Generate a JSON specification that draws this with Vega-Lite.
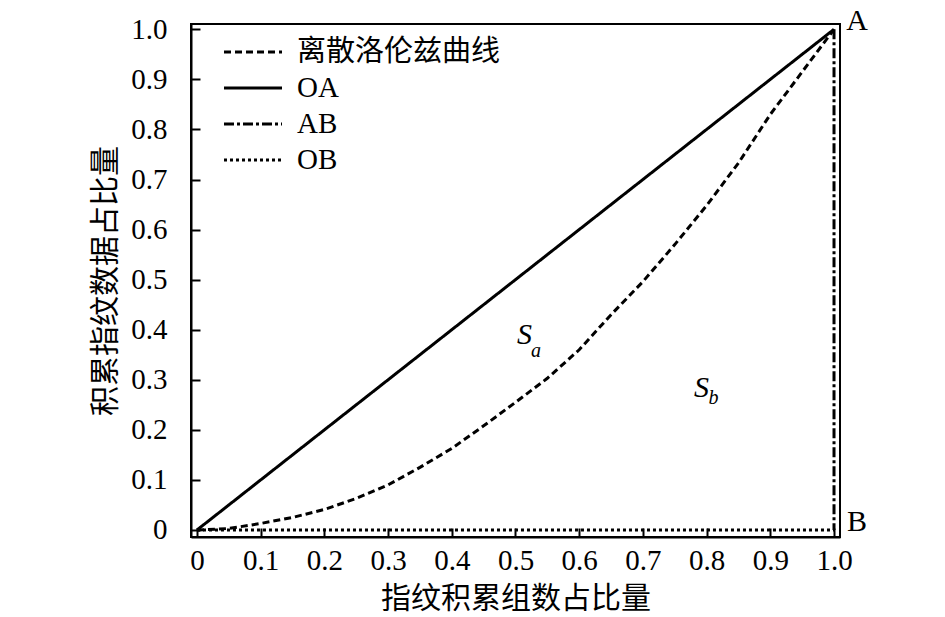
{
  "$schema": "https://vega.github.io/schema/vega-lite/v6.json",
  "width": 649,
  "height": 513,
  "autosize": "none",
  "padding": {"left": 191, "top": 24, "right": 105, "bottom": 80},
  "background": "white",
  "config": {
    "view": {"stroke": "black", "strokeWidth": 2},
    "font": "Liberation Serif, Noto Sans CJK SC",
    "axis": {
      "grid": false,
      "domainColor": "black",
      "domainWidth": 2,
      "tickColor": "black",
      "tickWidth": 2,
      "tickSize": -9,
      "labelFont": "Liberation Serif",
      "labelFontSize": 29,
      "labelColor": "black",
      "titleFont": "Liberation Serif, Noto Sans CJK SC",
      "titleFontSize": 30,
      "titleFontWeight": "normal",
      "titleColor": "black"
    }
  },
  "layer": [
    {
      "data": {
        "values": [
          {"series": "离散洛伦兹曲线", "i": 0, "x": 0, "y": 0},
          {"series": "离散洛伦兹曲线", "i": 1, "x": 0.05, "y": 0.003},
          {"series": "离散洛伦兹曲线", "i": 2, "x": 0.1, "y": 0.013},
          {"series": "离散洛伦兹曲线", "i": 3, "x": 0.15, "y": 0.025},
          {"series": "离散洛伦兹曲线", "i": 4, "x": 0.2, "y": 0.041},
          {"series": "离散洛伦兹曲线", "i": 5, "x": 0.25, "y": 0.063},
          {"series": "离散洛伦兹曲线", "i": 6, "x": 0.3, "y": 0.09},
          {"series": "离散洛伦兹曲线", "i": 7, "x": 0.35, "y": 0.125},
          {"series": "离散洛伦兹曲线", "i": 8, "x": 0.4, "y": 0.163},
          {"series": "离散洛伦兹曲线", "i": 9, "x": 0.45, "y": 0.208},
          {"series": "离散洛伦兹曲线", "i": 10, "x": 0.5, "y": 0.255},
          {"series": "离散洛伦兹曲线", "i": 11, "x": 0.55, "y": 0.303},
          {"series": "离散洛伦兹曲线", "i": 12, "x": 0.6, "y": 0.36},
          {"series": "离散洛伦兹曲线", "i": 13, "x": 0.65, "y": 0.43},
          {"series": "离散洛伦兹曲线", "i": 14, "x": 0.7, "y": 0.496},
          {"series": "离散洛伦兹曲线", "i": 15, "x": 0.75, "y": 0.57},
          {"series": "离散洛伦兹曲线", "i": 16, "x": 0.8, "y": 0.648},
          {"series": "离散洛伦兹曲线", "i": 17, "x": 0.85, "y": 0.733},
          {"series": "离散洛伦兹曲线", "i": 18, "x": 0.9, "y": 0.83},
          {"series": "离散洛伦兹曲线", "i": 19, "x": 0.95, "y": 0.915},
          {"series": "离散洛伦兹曲线", "i": 20, "x": 1.0, "y": 1.0},
          {"series": "OA", "i": 0, "x": 0, "y": 0},
          {"series": "OA", "i": 1, "x": 1, "y": 1},
          {"series": "AB", "i": 0, "x": 1, "y": 1},
          {"series": "AB", "i": 1, "x": 1, "y": 0},
          {"series": "OB", "i": 0, "x": 0, "y": 0},
          {"series": "OB", "i": 1, "x": 1, "y": 0}
        ]
      },
      "mark": {"type": "line", "color": "black", "strokeWidth": 3},
      "encoding": {
        "x": {
          "field": "x",
          "type": "quantitative",
          "scale": {"domain": [-0.0094, 1.0094], "nice": false, "zero": false},
          "axis": {
            "title": "指纹积累组数占比量",
            "values": [0, 0.1, 0.2, 0.3, 0.4, 0.5, 0.6, 0.7, 0.8, 0.9, 1.0],
            "labelExpr": "datum.value == 0 ? '0' : format(datum.value, '.1f')",
            "labelPadding": 18,
            "titlePadding": 8
          }
        },
        "y": {
          "field": "y",
          "type": "quantitative",
          "scale": {"domain": [-0.014, 1.0106], "nice": false, "zero": false},
          "axis": {
            "title": "积累指纹数据占比量",
            "values": [0, 0.1, 0.2, 0.3, 0.4, 0.5, 0.6, 0.7, 0.8, 0.9, 1.0],
            "labelExpr": "datum.value == 0 ? '0' : format(datum.value, '.1f')",
            "labelPadding": 33,
            "titleX": -86,
            "titleBaseline": "middle"
          }
        },
        "order": {"field": "i", "type": "quantitative"},
        "strokeDash": {
          "field": "series",
          "type": "nominal",
          "scale": {
            "domain": ["离散洛伦兹曲线", "OA", "AB", "OB"],
            "range": [[7, 4], [1, 0], [10, 3, 3, 3], [3, 3]]
          },
          "legend": {
            "title": null,
            "orient": "none",
            "legendX": 46,
            "legendY": 12,
            "padding": 0,
            "rowPadding": 5,
            "symbolType": "M-2,0H2",
            "symbolSize": 841,
            "symbolStrokeWidth": 3,
            "symbolStrokeColor": "black",
            "labelOffset": 28,
            "labelFont": "Liberation Serif, Noto Sans CJK SC",
            "labelFontSize": 29,
            "labelColor": "black",
            "labelLimit": 400
          }
        }
      }
    },
    {
      "data": {
        "values": [
          {"label": "A", "x": 1, "y": 1, "pos": "top"},
          {"label": "B", "x": 1, "y": 0, "pos": "bottom"}
        ]
      },
      "mark": {"type": "text", "font": "Liberation Serif", "fontSize": 30, "color": "black", "align": "center", "baseline": "middle", "dx": 23},
      "encoding": {
        "x": {"field": "x", "type": "quantitative"},
        "y": {"field": "y", "type": "quantitative"},
        "yOffset": {"condition": {"test": "datum.pos == 'top'", "value": -9}, "value": -8},
        "text": {"field": "label"}
      }
    },
    {
      "data": {
        "values": [
          {"label": "S", "x": 0.514, "y": 0.389},
          {"label": "S", "x": 0.792, "y": 0.284}
        ]
      },
      "mark": {"type": "text", "font": "Liberation Serif", "fontSize": 30, "fontStyle": "italic", "color": "black", "align": "center", "baseline": "middle"},
      "encoding": {
        "x": {"field": "x", "type": "quantitative"},
        "y": {"field": "y", "type": "quantitative"},
        "text": {"field": "label"}
      }
    },
    {
      "data": {
        "values": [
          {"label": "a", "x": 0.532, "y": 0.358},
          {"label": "b", "x": 0.811, "y": 0.264}
        ]
      },
      "mark": {"type": "text", "font": "Liberation Serif", "fontSize": 20, "fontStyle": "italic", "color": "black", "align": "center", "baseline": "middle"},
      "encoding": {
        "x": {"field": "x", "type": "quantitative"},
        "y": {"field": "y", "type": "quantitative"},
        "text": {"field": "label"}
      }
    }
  ]
}
